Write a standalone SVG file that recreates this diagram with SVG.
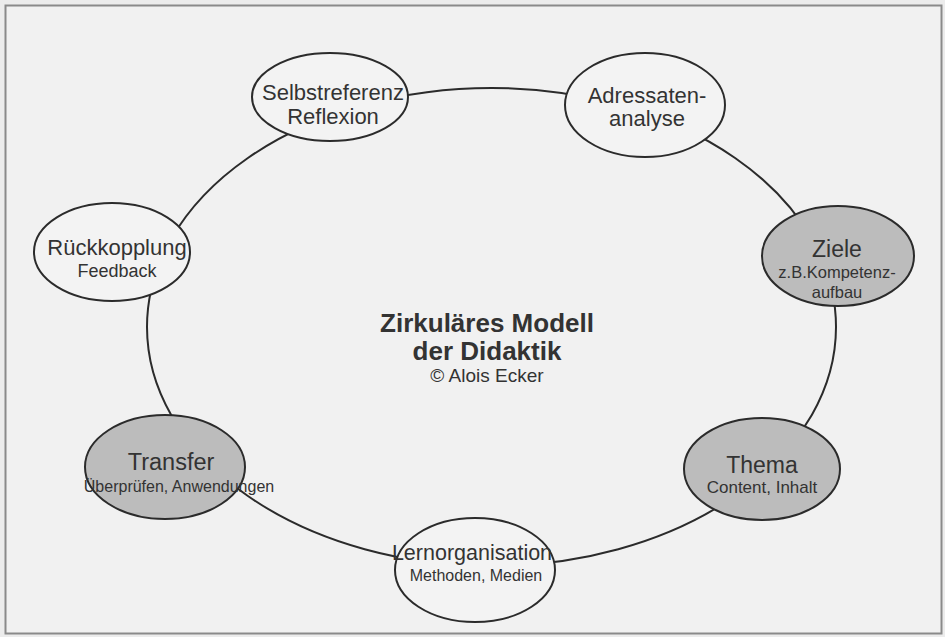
<svg xmlns="http://www.w3.org/2000/svg" width="945" height="637" viewBox="0 0 945 637">
<style>
.node{stroke:#2b2b2b;stroke-width:2}
.light{fill:#f3f3f3}
.dark{fill:#bcbcbc}
text{font-family:"Liberation Sans",Arial,sans-serif;fill:#333;text-anchor:middle}
.t1{font-size:22px}
.t2{font-size:16px}
.title{font-size:26px;font-weight:bold}
.conn{fill:none;stroke:#2b2b2b;stroke-width:2}
</style>
<rect x="0" y="0" width="945" height="637" fill="#ececec"/>
<rect x="5.5" y="5.5" width="936" height="628" fill="#f1f1f1" stroke="#8a8a8a" stroke-width="2"/>
<g id="connectors">
<ellipse class="conn" cx="491.5" cy="327" rx="344.5" ry="239"/>
</g>
<g id="title">
<text class="title" x="487" y="332">Zirkuläres Modell</text>
<text class="title" x="487" y="360">der Didaktik</text>
<text x="487" y="382" style="font-size:19px">© Alois Ecker</text>
</g>
<g id="selbstreferenz">
<ellipse class="node light" cx="330" cy="97" rx="78" ry="44"/>
<text class="t1" x="333" y="100">Selbstreferenz</text>
<text class="t1" x="333" y="124">Reflexion</text>
</g>
<g id="adressaten">
<ellipse class="node light" cx="645" cy="105" rx="80" ry="52"/>
<text class="t1" x="647" y="103">Adressaten-</text>
<text class="t1" x="647" y="126">analyse</text>
</g>
<g id="ziele">
<ellipse class="node dark" cx="838" cy="256" rx="76" ry="50"/>
<text x="837" y="257" style="font-size:23px">Ziele</text>
<text x="837" y="278" style="font-size:16.5px">z.B.Kompetenz-</text>
<text x="837" y="298" style="font-size:16.5px">aufbau</text>
</g>
<g id="thema">
<ellipse class="node dark" cx="762" cy="469" rx="78" ry="51"/>
<text x="762" y="473" style="font-size:23px">Thema</text>
<text x="762" y="493" style="font-size:17px">Content, Inhalt</text>
</g>
<g id="lernorganisation">
<ellipse class="node light" cx="475" cy="570" rx="80" ry="52"/>
<text x="472" y="560" style="font-size:21.5px">Lernorganisation</text>
<text class="t2" x="476" y="581">Methoden, Medien</text>
</g>
<g id="transfer">
<ellipse class="node dark" cx="165" cy="467" rx="80" ry="52"/>
<text x="171" y="470" style="font-size:23.5px">Transfer</text>
<text class="t2" x="179" y="492">Überprüfen, Anwendungen</text>
</g>
<g id="rueckkopplung">
<ellipse class="node light" cx="112" cy="252" rx="78" ry="49"/>
<text class="t1" x="117" y="255">Rückkopplung</text>
<text x="117" y="277" style="font-size:18px">Feedback</text>
</g>
</svg>
